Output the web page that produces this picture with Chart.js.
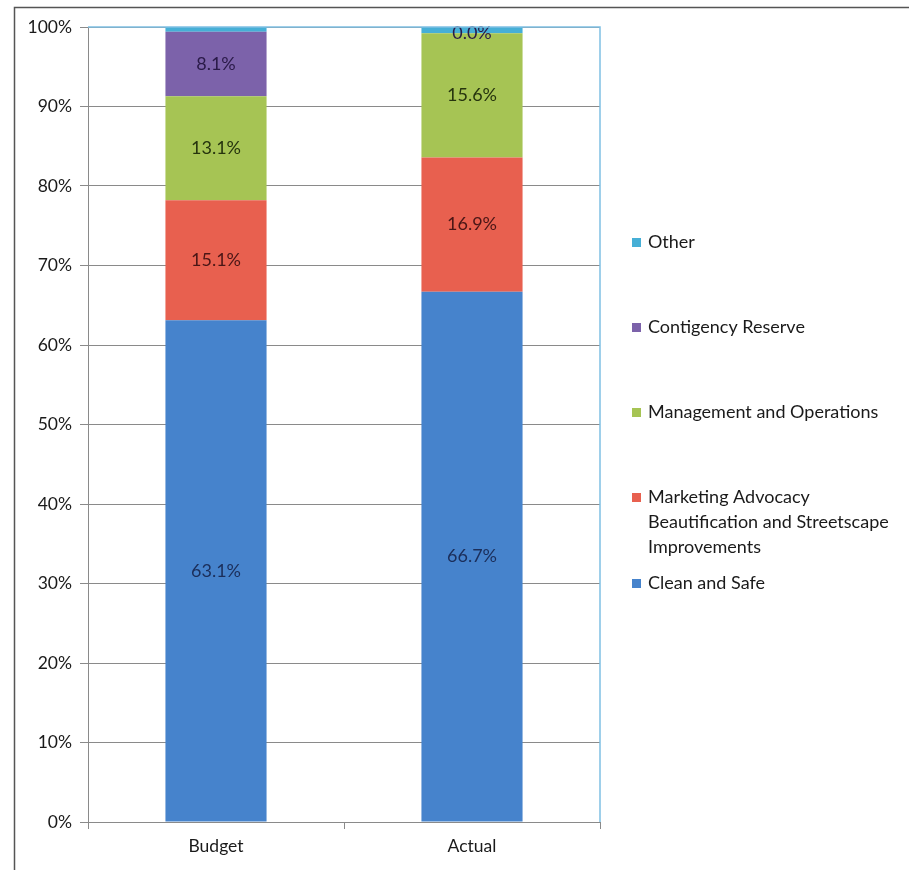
<!DOCTYPE html>
<html>
<head>
<meta charset="utf-8">
<script src="https://cdn.jsdelivr.net/npm/chart.js@4/dist/chart.umd.min.js"></script>
<style>
  body { margin: 0; background: #fff; }
  canvas { display: block; }
</style>
</head>
<body>
<canvas id="graph" width="909" height="870"></canvas>
<script>
// categories and series (percent of total)
const categories = ["Budget", "Actual"];
const cleanSafe = [63.1, 66.7];
const marketing = [15.1, 16.9];
const management = [13.1, 15.6];
const contingency = [8.1, 0.0];
const other = [0.6, 0.8];

const seriesNames = ["Clean and Safe", "Marketing Advocacy Beautification and Streetscape Improvements", "Management and Operations", "Contigency Reserve", "Other"];
// legend text broken in lines, as in the picture
const legendLines = [["Clean and Safe"], ["Marketing Advocacy", "Beautification and Streetscape", "Improvements"], ["Management and Operations"], ["Contigency Reserve"], ["Other"]];
const seriesColors = ["#4683cc", "#e8604f", "#a6c454", "#7c62aa", "#46afd6"];
const labelColors = ["#1b2e5a", "#4a1616", "#26340e", "#2a1a48", null];
const yTicks = [0, 10, 20, 30, 40, 50, 60, 70, 80, 90, 100];

const FONT = "Lato, 'Open Sans', sans-serif";

const allSeries = [cleanSafe, marketing, management, contingency, other];

// value labels centered on each segment
const valueLabels = {
    id: "valueLabels",
    afterDatasetsDraw(chart) {
        const ctx = chart.ctx;
        ctx.save();
        ctx.font = "18px " + FONT;
        ctx.textAlign = "center";
        ctx.textBaseline = "middle";
        chart.data.datasets.forEach((ds, i) => {
            if (!labelColors[i]) return;
            const meta = chart.getDatasetMeta(i);
            meta.data.forEach((bar, j) => {
                const mid = (bar.y + bar.base) / 2;
                ctx.fillStyle = labelColors[i];
                ctx.fillText(ds.data[j].toFixed(1) + "%", bar.x, mid);
            });
        });
        ctx.restore();
    }
};

// frame, plot border and legend on the right
const decorations = {
    id: "decorations",
    beforeDraw(chart) {
        const ctx = chart.ctx;
        ctx.save();
        ctx.strokeStyle = "#555";
        ctx.lineWidth = 1.5;
        ctx.beginPath();
        ctx.moveTo(909, 7.5);
        ctx.lineTo(14.5, 7.5);
        ctx.lineTo(14.5, 870);
        ctx.stroke();
        ctx.restore();
    },
    afterDraw(chart) {
        const ctx = chart.ctx;
        const a = chart.chartArea;
        ctx.save();
        ctx.strokeStyle = "#7fc0e4";
        ctx.lineWidth = 1.5;
        ctx.beginPath();
        ctx.moveTo(a.left, a.top);
        ctx.lineTo(a.right, a.top);
        ctx.lineTo(a.right, a.bottom);
        ctx.stroke();

        // legend, drawn from top (Other) to bottom (Clean and Safe)
        ctx.font = "18px " + FONT;
        ctx.textBaseline = "middle";
        ctx.textAlign = "left";
        const tops = [583, 497, 412, 327, 242];
        for (let i = 0; i < legendLines.length; i++) {
            const y = tops[i];
            ctx.fillStyle = seriesColors[i];
            ctx.fillRect(632, y - 4, 9, 9);
            ctx.fillStyle = "#1a1a1a";
            legendLines[i].forEach((line, k) => {
                ctx.fillText(line, 648, y + k * 25);
            });
        }
        ctx.restore();
    }
};

const ctx = document.getElementById("graph").getContext("2d");

let myChart = new Chart(ctx, {
    type: "bar",
    data: {
        labels: categories,
        datasets: allSeries.map((d, i) => ({
            label: seriesNames[i],
            data: d,
            backgroundColor: seriesColors[i],
            borderWidth: 0,
            barPercentage: 0.395,
            categoryPercentage: 1
        }))
    },
    options: {
        responsive: false,
        devicePixelRatio: 1,
        animation: false,
        layout: { padding: { top: 27, right: 309, bottom: 0, left: 0 } },
        plugins: {
            legend: { display: false },
            tooltip: { enabled: false }
        },
        scales: {
            x: {
                stacked: true,
                offset: true,
                grid: {
                    offset: true,
                    drawOnChartArea: false,
                    drawTicks: true,
                    tickLength: 7,
                    color: "#8a8a8a"
                },
                border: { color: "#8a8a8a", width: 1 },
                ticks: {
                    color: "#1a1a1a",
                    font: { family: FONT, size: 17.5 },
                    padding: 7
                },
                afterFit(scale) { scale.height = 48; }
            },
            y: {
                stacked: true,
                min: 0,
                max: 100,
                afterBuildTicks(scale) {
                    scale.ticks = yTicks.map(v => ({ value: v }));
                },
                grid: {
                    color: "#8a8a8a",
                    tickLength: 8
                },
                border: { color: "#8a8a8a", width: 1 },
                ticks: {
                    color: "#1a1a1a",
                    font: { family: FONT, size: 17.5 },
                    padding: 8,
                    callback: v => v + "%"
                },
                afterFit(scale) { scale.width = 88; }
            }
        }
    },
    plugins: [valueLabels, decorations]
});
</script>
</body>
</html>
